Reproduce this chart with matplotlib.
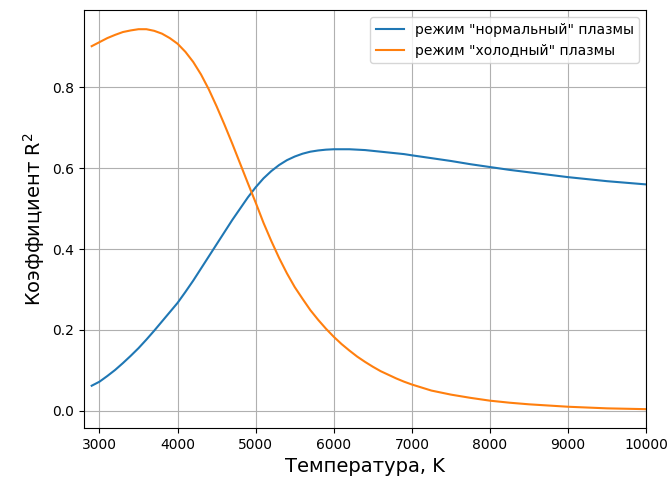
import matplotlib
matplotlib.use("Agg")
import matplotlib.pyplot as plt

# Temperature grid, K
temp = [2900, 3000, 3100, 3200, 3300, 3400, 3500, 3600, 3700, 3800, 3900,
        4000, 4100, 4200, 4300, 4400, 4500, 4600, 4700, 4800, 4900,
        5000, 5100, 5200, 5300, 5400, 5500, 5600, 5700, 5800, 5900,
        6000, 6100, 6200, 6300, 6400, 6500, 6600, 6700, 6800, 6900,
        7000, 7250, 7500, 7750, 8000, 8250, 8500, 8750,
        9000, 9250, 9500, 9750, 10000]

# R^2 for the "normal" plasma regime
r2_normal = [0.062, 0.072, 0.086, 0.101, 0.118, 0.136, 0.155, 0.176, 0.198, 0.221, 0.244,
             0.267, 0.294, 0.322, 0.352, 0.382, 0.412, 0.442, 0.472, 0.500, 0.528,
             0.553, 0.575, 0.593, 0.608, 0.620, 0.629, 0.636, 0.641, 0.644, 0.646,
             0.647, 0.647, 0.647, 0.646, 0.645, 0.643, 0.641, 0.639, 0.637, 0.635,
             0.632, 0.625, 0.618, 0.610, 0.603, 0.596, 0.590, 0.584,
             0.578, 0.573, 0.568, 0.564, 0.560]

# R^2 for the "cold" plasma regime
r2_cold = [0.902, 0.912, 0.922, 0.930, 0.937, 0.941, 0.944, 0.944, 0.940, 0.933, 0.922,
           0.908, 0.888, 0.863, 0.832, 0.795, 0.753, 0.708, 0.661, 0.612, 0.563,
           0.515, 0.465, 0.420, 0.378, 0.340, 0.306, 0.277, 0.249, 0.225, 0.203,
           0.183, 0.165, 0.149, 0.134, 0.121, 0.109, 0.098, 0.089, 0.080, 0.072,
           0.065, 0.050, 0.040, 0.032, 0.025, 0.020, 0.016, 0.013,
           0.010, 0.008, 0.006, 0.005, 0.004]

fig, ax = plt.subplots(figsize=(6.71, 4.86), dpi=100)
fig.subplots_adjust(left=0.125, right=0.963, top=0.979, bottom=0.119)

ax.plot(temp, r2_normal, label='режим "нормальный" плазмы')
ax.plot(temp, r2_cold, label='режим "холодный" плазмы')

ax.set_xlim(2800, 10000)
ax.grid(True)
ax.legend(loc="upper right")

ax.set_xlabel("Температура, K", fontsize=14)
ax.set_ylabel("Коэффициент R$^2$", fontsize=14)

plt.savefig("out.png")
